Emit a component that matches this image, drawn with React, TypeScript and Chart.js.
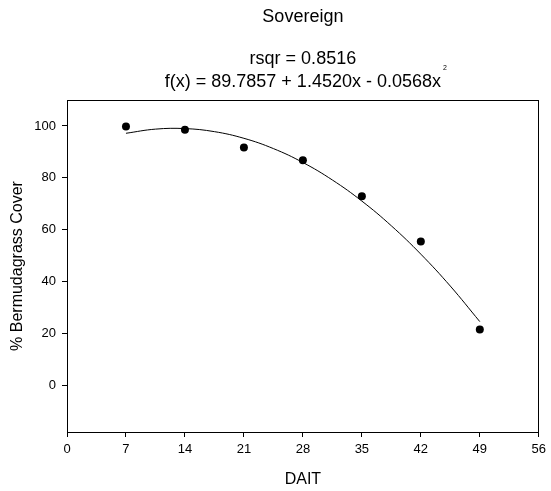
import React, { useEffect, useRef } from 'react';
import { Chart, registerables } from 'chart.js';

Chart.register(...registerables);

const titleText = 'Sovereign';
const rsqrText = 'rsqr = 0.8516';
const equationText = 'f(x) = 89.7857 + 1.4520x - 0.0568x';
const exponentText = '2';
const xAxisTitle = 'DAIT';
const yAxisTitle = '% Bermudagrass Cover';

const daysAfterTreatment = [7, 14, 21, 28, 35, 42, 49];
const coverPercent = [99.8, 98.5, 91.7, 86.8, 72.9, 55.4, 21.5];

const fitDays = [7, 10.5, 14, 17.5, 21, 24.5, 28, 31.5, 35, 38.5, 42, 45.5, 49];
const fitCover = [97.17, 98.77, 98.98, 97.8, 95.23, 91.27, 85.91, 79.16, 71.03, 61.5, 50.57, 38.26, 24.56];

const xTicks = [0, 7, 14, 21, 28, 35, 42, 49, 56];
const yTicks = [0, 20, 40, 60, 80, 100];

const FONT = "'Liberation Sans', Arial, Helvetica, sans-serif";

const decorations = {
  id: 'decorations',
  afterDraw(chart: any) {
    const { ctx, chartArea } = chart;
    const { left, right, top, bottom } = chartArea;
    ctx.save();
    ctx.strokeStyle = '#000';
    ctx.lineWidth = 1;
    ctx.beginPath();
    ctx.moveTo(left, Math.round(top) + 0.5);
    ctx.lineTo(right, Math.round(top) + 0.5);
    ctx.moveTo(Math.round(right) - 0.5, top);
    ctx.lineTo(Math.round(right) - 0.5, bottom);
    ctx.stroke();

    const cx = (left + right) / 2;
    ctx.fillStyle = '#000';
    ctx.textAlign = 'center';
    ctx.textBaseline = 'alphabetic';
    ctx.font = `18px ${FONT}`;
    ctx.fillText(titleText, cx, 22);
    ctx.fillText(rsqrText, cx, 64);
    ctx.fillText(equationText, cx, 87);
    const w = ctx.measureText(equationText).width;
    ctx.font = `7px ${FONT}`;
    ctx.textAlign = 'left';
    ctx.fillText(exponentText, cx + w / 2 + 2, 70);
    ctx.restore();
  },
};

export default function App() {
  const canvasRef = useRef<HTMLCanvasElement | null>(null);

  useEffect(() => {
    if (!canvasRef.current) return;
    const chart = new Chart(canvasRef.current, {
      type: 'scatter',
      data: {
        datasets: [
          {
            label: 'Observed',
            data: daysAfterTreatment.map((d, i) => ({ x: d, y: coverPercent[i] })),
            pointRadius: 4,
            pointHoverRadius: 4,
            pointBackgroundColor: '#000',
            pointBorderColor: '#000',
            borderWidth: 0,
            showLine: false,
            order: 1,
          },
          {
            label: 'Fit',
            data: fitDays.map((d, i) => ({ x: d, y: fitCover[i] })),
            showLine: true,
            borderColor: '#000',
            borderWidth: 1,
            pointRadius: 0,
            pointHoverRadius: 0,
            tension: 0.4,
            fill: false,
            order: 2,
          },
        ],
      },
      options: {
        animation: false,
        responsive: false,
        maintainAspectRatio: false,
        layout: { padding: { top: 100, right: 8, left: 0, bottom: 0 } },
        plugins: {
          legend: { display: false },
          tooltip: { enabled: false },
          title: { display: false },
        },
        scales: {
          x: {
            type: 'linear',
            min: 0,
            max: 56,
            afterFit: (s: any) => {
              s.height = 59;
            },
            afterBuildTicks: (s: any) => {
              s.ticks = xTicks.map((v) => ({ value: v }));
            },
            ticks: {
              color: '#000',
              font: { family: FONT, size: 13 },
              padding: 5,
              maxRotation: 0,
              autoSkip: false,
            },
            grid: {
              drawOnChartArea: false,
              drawTicks: true,
              tickLength: 5,
              color: '#000',
              tickColor: '#000',
            },
            border: { display: true, color: '#000', width: 1 },
            title: {
              display: true,
              text: xAxisTitle,
              color: '#000',
              font: { family: FONT, size: 16 },
              padding: { top: 0, bottom: 2 },
            },
          },
          y: {
            type: 'linear',
            min: -18,
            max: 110,
            afterFit: (s: any) => {
              s.width = 67;
            },
            afterBuildTicks: (s: any) => {
              s.ticks = yTicks.map((v) => ({ value: v }));
            },
            ticks: {
              color: '#000',
              font: { family: FONT, size: 13 },
              padding: 6,
              autoSkip: false,
            },
            grid: {
              drawOnChartArea: false,
              drawTicks: true,
              tickLength: 5,
              color: '#000',
              tickColor: '#000',
            },
            border: { display: true, color: '#000', width: 1 },
            title: {
              display: true,
              text: yAxisTitle,
              color: '#000',
              font: { family: FONT, size: 16 },
              padding: { top: 8, bottom: 0 },
            },
          },
        },
      },
      plugins: [decorations],
    });
    return () => chart.destroy();
  }, []);

  return (
    <div style={{ position: 'absolute', left: 0, top: 0, width: 551, height: 491, background: '#fff' }}>
      <canvas ref={canvasRef} width={551} height={491} style={{ display: 'block', width: 551, height: 491 }} />
    </div>
  );
}
